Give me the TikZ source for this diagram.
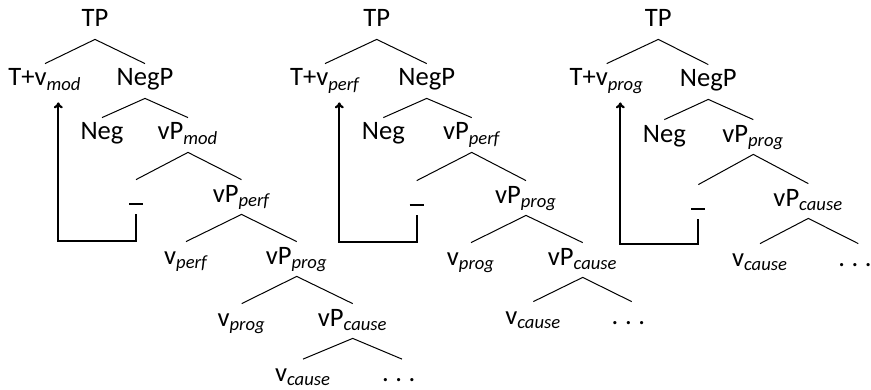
\documentclass[tikz,border=0pt]{standalone}
\usepackage{fontspec}
\setmainfont{Carlito}
\usetikzlibrary{arrows.meta}
\newcommand\lsub[1]{\textsubscript{\itshape #1}}
\newcommand\trc{\rule[-1.7pt]{7pt}{1pt}}
\newcommand\mydots{.\kern3.3pt.\kern3.3pt.\kern3.3pt}
\tikzset{
  tn/.style={inner sep=0pt, text height=11pt, text depth=6pt, anchor=base},
  lf/.style={inner sep=0pt, text height=11pt, anchor=base},
  br/.style={line width=0.5pt},
  mv/.style={line width=1.1pt, -{To[length=3pt,width=4.5pt]}},
}
\begin{document}
\begin{tikzpicture}[x=0.5pt,y=-0.5pt,font=\fontsize{13.3}{15}\selectfont]
\useasboundingbox (0,0) rectangle (871,390);
% ---------- tree 1 ----------
\node[tn] (a0) at (95,27) {TP};
\node[tn] (a1) at (45,86) {T+v\lsub{mod}};
\node[tn] (a2) at (145,86) {NegP};
\node[tn] (a3) at (102,140) {Neg};
\node[tn] (a4) at (188,140) {vP\lsub{mod}};
\node[tn] (a5) at (136,202) {\trc};
\node[tn] (a6) at (241.5,202) {vP\lsub{perf}};
\node[tn] (a7) at (186,264) {v\lsub{perf}};
\node[tn] (a8) at (296.7,264) {vP\lsub{prog}};
\node[tn] (a9) at (241.7,326) {v\lsub{prog}};
\node[tn] (a10) at (352.7,326) {vP\lsub{cause}};
\node[lf] (a11) at (303,381.5) {v\lsub{cause}};
\node[lf] (a12) at (402,381.5) {\mydots};
\draw[br] (a1.north) -- (a0.south) -- (a2.north);
\draw[br] (a3.north) -- (a2.south) -- (a4.north);
\draw[br] (a5.north) -- (a4.south) -- (a6.north);
\draw[br] (a7.north) -- (a6.south) -- (a8.north);
\draw[br] (a9.north) -- (a8.south) -- (a10.north);
\draw[br] (a11.north) -- (a10.south) -- (a12.north);
\coordinate (ca) at (58.3,241);
\draw[mv, shorten >=2pt] (a5.south) |- (ca) -- (ca |- a1.south);
% ---------- tree 2 ----------
\node[tn] (b0) at (376.7,27) {TP};
\node[tn] (b1) at (325,86) {T+v\lsub{perf}};
\node[tn] (b2) at (426.7,86) {NegP};
\node[tn] (b3) at (383.3,140) {Neg};
\node[tn] (b4) at (471.7,140) {vP\lsub{perf}};
\node[tn] (b5) at (416.7,203) {\trc};
\node[tn] (b6) at (526,203) {vP\lsub{prog}};
\node[tn] (b7) at (471,265) {v\lsub{prog}};
\node[tn] (b8) at (582.7,265) {vP\lsub{cause}};
\node[lf] (b9) at (533.3,324) {v\lsub{cause}};
\node[lf] (b10) at (631.7,324) {\mydots};
\draw[br] (b1.north) -- (b0.south) -- (b2.north);
\draw[br] (b3.north) -- (b2.south) -- (b4.north);
\draw[br] (b5.north) -- (b4.south) -- (b6.north);
\draw[br] (b7.north) -- (b6.south) -- (b8.north);
\draw[br] (b9.north) -- (b8.south) -- (b10.north);
\coordinate (cb) at (339.3,241.7);
\draw[mv, shorten >=2pt] (b5.south) |- (cb) -- (cb |- b1.south);
% ---------- tree 3 ----------
\node[tn] (c0) at (658.3,27) {TP};
\node[tn] (c1) at (606.7,86) {T+v\lsub{prog}};
\node[tn] (c2) at (708.3,87) {NegP};
\node[tn] (c3) at (664.3,142) {Neg};
\node[tn] (c4) at (753.3,142) {vP\lsub{prog}};
\node[tn] (c5) at (698.3,207) {\trc};
\node[tn] (c6) at (808.3,206) {vP\lsub{cause}};
\node[lf] (c7) at (760,266) {v\lsub{cause}};
\node[lf] (c8) at (858.3,266) {\mydots};
\draw[br] (c1.north) -- (c0.south) -- (c2.north);
\draw[br] (c3.north) -- (c2.south) -- (c4.north);
\draw[br] (c5.north) -- (c4.south) -- (c6.north);
\draw[br] (c7.north) -- (c6.south) -- (c8.north);
\coordinate (cc) at (620.3,244);
\draw[mv, shorten >=2pt] (c5.south) |- (cc) -- (cc |- c1.south);
\end{tikzpicture}
\end{document}
